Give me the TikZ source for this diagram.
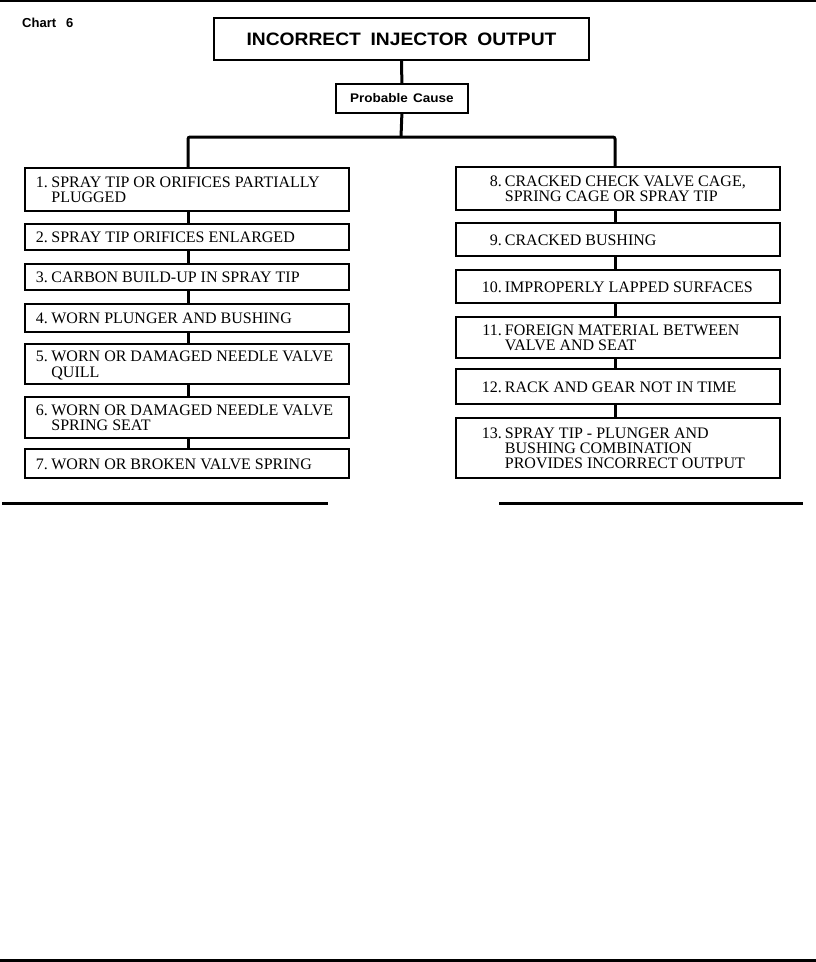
\documentclass[tikz,border=0pt]{standalone}
\usepackage{fontspec}
\setmainfont{Liberation Serif}
\newfontfamily\hdfont{Liberation Sans}
\usepackage{graphicx}
\newcommand\leftitem[2]{\makebox[324pt][l]{\rule{0pt}{16pt}\hspace{11pt}\makebox[15.5pt][l]{#1}\begin{tabular}[t]{@{}l@{}}#2\end{tabular}}}
\newcommand\rightitem[2]{\makebox[324pt][l]{\rule{0pt}{16pt}\hspace{26pt}\makebox[23pt][r]{#1\kern3pt}\begin{tabular}[t]{@{}l@{}}#2\end{tabular}}}
\tikzset{
  itembox/.style={draw, line width=1.8pt, rectangle, anchor=north west, inner sep=0pt,
    minimum width=324pt, font=\fontsize{16}{15.3}\selectfont},
  conn/.style={line width=3pt},
  rule/.style={line width=3pt}
}
\begin{document}
\begin{tikzpicture}[x=1pt,y=-1pt]
\useasboundingbox (0,0) rectangle (816,962);
\draw[line width=2pt] (0,1) -- (816,1);
\draw[rule] (0,960.5) -- (816,960.5);

\node[anchor=base west, inner sep=0pt, font=\hdfont\bfseries\fontsize{13}{15}\selectfont] (chart) at (22,27) {Chart\hspace{10pt}6};

\node[draw, line width=2pt, anchor=north west, inner sep=0pt, minimum width=375pt, minimum height=42pt,
  font=\hdfont\bfseries\fontsize{18}{20}\selectfont] (title) at (213,17)
  {\scalebox{1.07}[1]{INCORRECT\hspace{9pt}INJECTOR\hspace{9pt}OUTPUT}};

\node[draw, line width=1.8pt, anchor=north west, inner sep=0pt, minimum width=132pt, minimum height=29pt,
  font=\hdfont\bfseries\fontsize{12.5}{14}\selectfont] (pc) at (335,83)
  {\scalebox{1.08}[1]{Probable\hspace{5pt}Cause}};

\node[itembox, minimum height=43pt] (L1) at (24,167) {\leftitem{1.}{SPRAY TIP OR ORIFICES PARTIALLY\\PLUGGED}};
\node[itembox, minimum height=26pt] (L2) at (24,223) {\leftitem{2.}{SPRAY TIP ORIFICES ENLARGED}};
\node[itembox, minimum height=26pt] (L3) at (24,263) {\leftitem{3.}{CARBON BUILD-UP IN SPRAY TIP}};
\node[itembox, minimum height=28pt] (L4) at (24,303) {\leftitem{4.}{WORN PLUNGER AND BUSHING}};
\node[itembox, minimum height=40pt] (L5) at (24,343) {\leftitem{5.}{WORN OR DAMAGED NEEDLE VALVE\\QUILL}};
\node[itembox, minimum height=41pt] (L6) at (24,396) {\leftitem{6.}{WORN OR DAMAGED NEEDLE VALVE\\SPRING SEAT}};
\node[itembox, minimum height=29pt] (L7) at (24,448) {\leftitem{7.}{WORN OR BROKEN VALVE SPRING}};

\node[itembox, minimum height=43pt] (R8) at (455,166) {\rightitem{8.}{CRACKED CHECK VALVE CAGE,\\SPRING CAGE OR SPRAY TIP}};
\node[itembox, minimum height=33pt] (R9) at (455,222) {\rightitem{9.}{CRACKED BUSHING}};
\node[itembox, minimum height=33pt] (R10) at (455,269) {\rightitem{10.}{IMPROPERLY LAPPED SURFACES}};
\node[itembox, minimum height=41pt] (R11) at (455,316) {\rightitem{11.}{FOREIGN MATERIAL BETWEEN\\VALVE AND SEAT}};
\node[itembox, minimum height=35pt] (R12) at (455,368) {\rightitem{12.}{RACK AND GEAR NOT IN TIME}};
\node[itembox, minimum height=60pt] (R13) at (455,417) {\rightitem{13.}{SPRAY TIP - PLUNGER AND\\BUSHING COMBINATION\\PROVIDES INCORRECT OUTPUT}};

\coordinate (lx) at (188,0);
\coordinate (rx) at (615,0);
\coordinate (bar) at (401,137);

\draw[conn] (title.south) -- (pc.north);
\draw[conn] (pc.south) -- (bar);
\draw[conn, rounded corners=2pt] (L1.north -| lx) -- (lx |- bar) -- (rx |- bar) -- (R8.north -| rx);

\foreach \a/\b in {L1/L2,L2/L3,L3/L4,L4/L5,L5/L6,L6/L7}
  \draw[conn] (\a.south -| lx) -- (\b.north -| lx);
\foreach \a/\b in {R8/R9,R9/R10,R10/R11,R11/R12,R12/R13}
  \draw[conn] (\a.south -| rx) -- (\b.north -| rx);

\draw[rule] (2,503) -- (328,503);
\draw[rule] (499,503) -- (803,503);
\end{tikzpicture}
\end{document}
